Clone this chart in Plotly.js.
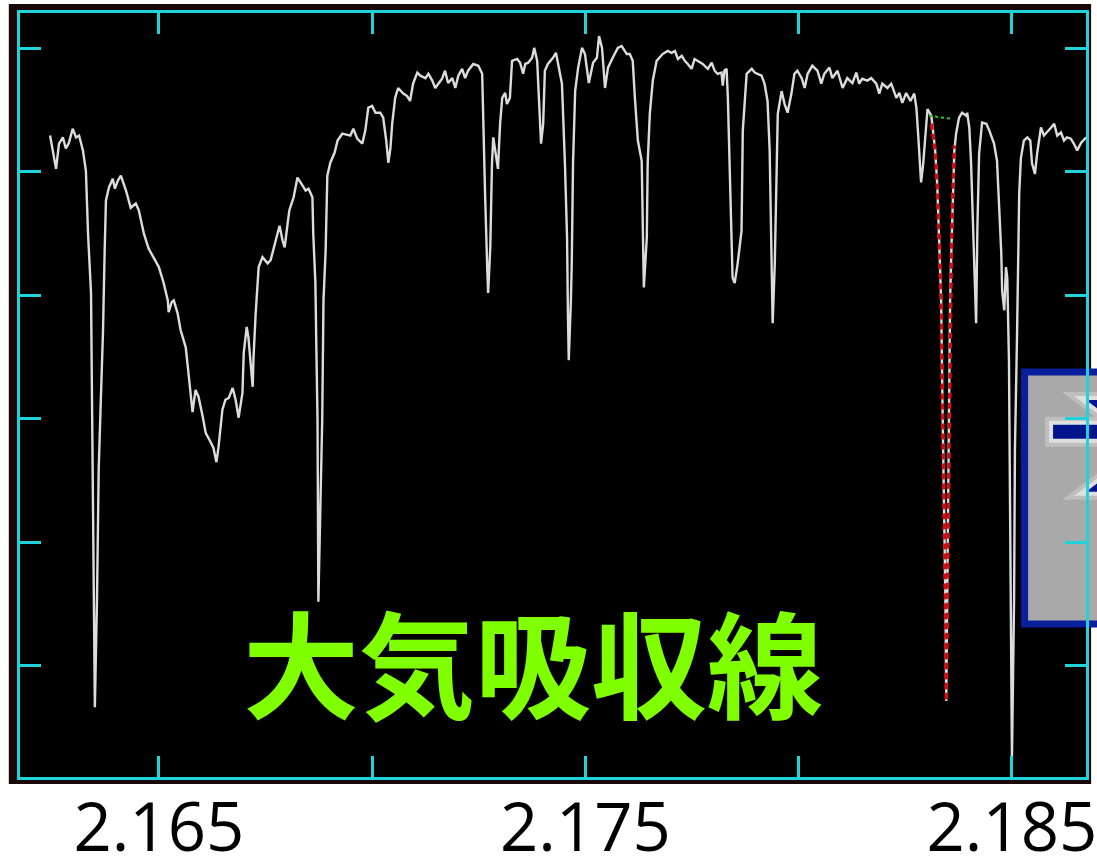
<!DOCTYPE html>
<html>
<head>
<meta charset="utf-8">
<script src="https://cdn.plot.ly/plotly-3.0.1.min.js"></script>
<style>
  html, body { margin: 0; padding: 0; background: #ffffff; overflow: hidden; }
  #chart { width: 1097px; height: 859px; }
</style>
</head>
<body>
<div id="chart"></div>
<script>
// Observed K-band spectrum (wavelength in micron, normalised flux)
const wavelength = [
  2.16245, 2.16252, 2.16259, 2.16266, 2.16275, 2.16282, 2.16289, 2.16298, 2.16306, 2.16313,
  2.16322, 2.16329, 2.16334, 2.16341, 2.16343, 2.16345, 2.16348, 2.16350, 2.16355, 2.16359,
  2.16364, 2.16369, 2.16373, 2.16376, 2.16383, 2.16392, 2.16397, 2.16404, 2.16411, 2.16423,
  2.16434, 2.16446, 2.16453, 2.16465, 2.16476, 2.16488, 2.16500, 2.16511, 2.16521, 2.16523,
  2.16530, 2.16535, 2.16544, 2.16551, 2.16563, 2.16568, 2.16575, 2.16579, 2.16586, 2.16593,
  2.16603, 2.16610, 2.16621, 2.16628, 2.16635, 2.16640, 2.16649, 2.16656, 2.16664, 2.16673,
  2.16680, 2.16687, 2.16696, 2.16699, 2.16706, 2.16710, 2.16720, 2.16722, 2.16727, 2.16734,
  2.16743, 2.16755, 2.16762, 2.16774, 2.16783, 2.16790, 2.16795, 2.16802, 2.16806, 2.16816,
  2.16825, 2.16837, 2.16844, 2.16851, 2.16860, 2.16862, 2.16867, 2.16869, 2.16872, 2.16874,
  2.16879, 2.16883, 2.16886, 2.16891, 2.16895, 2.16902, 2.16912, 2.16919, 2.16930, 2.16949,
  2.16956, 2.16965, 2.16977, 2.16984, 2.16991, 2.17000, 2.17008, 2.17019, 2.17026, 2.17033,
  2.17038, 2.17043, 2.17047, 2.17054, 2.17061, 2.17073, 2.17082, 2.17089, 2.17096, 2.17106,
  2.17113, 2.17125, 2.17132, 2.17141, 2.17148, 2.17155, 2.17164, 2.17171, 2.17178, 2.17188,
  2.17195, 2.17202, 2.17211, 2.17218, 2.17225, 2.17237, 2.17249, 2.17258, 2.17260, 2.17265,
  2.17270, 2.17272, 2.17277, 2.17281, 2.17284, 2.17288, 2.17293, 2.17295, 2.17300, 2.17305,
  2.17312, 2.17316, 2.17323, 2.17328, 2.17340, 2.17347, 2.17354, 2.17359, 2.17366, 2.17375,
  2.17380, 2.17387, 2.17391, 2.17396, 2.17401, 2.17405, 2.17412, 2.17424, 2.17431, 2.17436,
  2.17445, 2.17452, 2.17457, 2.17459, 2.17461, 2.17466, 2.17468, 2.17471, 2.17476, 2.17483,
  2.17492, 2.17499, 2.17508, 2.17518, 2.17527, 2.17532, 2.17539, 2.17546, 2.17553, 2.17564,
  2.17576, 2.17585, 2.17597, 2.17604, 2.17611, 2.17616, 2.17623, 2.17632, 2.17635, 2.17637,
  2.17644, 2.17646, 2.17651, 2.17658, 2.17667, 2.17681, 2.17693, 2.17702, 2.17710, 2.17717,
  2.17726, 2.17733, 2.17740, 2.17749, 2.17756, 2.17763, 2.17775, 2.17787, 2.17796, 2.17803,
  2.17810, 2.17819, 2.17822, 2.17826, 2.17831, 2.17834, 2.17838, 2.17843, 2.17845, 2.17850,
  2.17857, 2.17866, 2.17869, 2.17878, 2.17890, 2.17897, 2.17904, 2.17913, 2.17920, 2.17927,
  2.17932, 2.17936, 2.17939, 2.17944, 2.17948, 2.17951, 2.17960, 2.17967, 2.17974, 2.17983,
  2.17990, 2.17997, 2.18007, 2.18014, 2.18021, 2.18032, 2.18044, 2.18053, 2.18060, 2.18072,
  2.18079, 2.18091, 2.18103, 2.18114, 2.18126, 2.18135, 2.18142, 2.18149, 2.18161, 2.18170,
  2.18182, 2.18189, 2.18196, 2.18208, 2.18217, 2.18229, 2.18236, 2.18243, 2.18252, 2.18262,
  2.18271, 2.18276, 2.18280, 2.18285, 2.18287, 2.18292, 2.18297, 2.18302, 2.18311, 2.18320,
  2.18325, 2.18330, 2.18334, 2.18337, 2.18341, 2.18344, 2.18346, 2.18348, 2.18351, 2.18353,
  2.18355, 2.18358, 2.18360, 2.18365, 2.18369, 2.18376, 2.18383, 2.18393, 2.18395, 2.18400,
  2.18404, 2.18407, 2.18412, 2.18416, 2.18419, 2.18423, 2.18430, 2.18440, 2.18447, 2.18458,
  2.18465, 2.18470, 2.18475, 2.18477, 2.18482, 2.18486, 2.18489, 2.18493, 2.18496, 2.18500,
  2.18505, 2.18507, 2.18512, 2.18517, 2.18521, 2.18528, 2.18536, 2.18543, 2.18547, 2.18554,
  2.18559, 2.18568, 2.18575, 2.18582, 2.18592, 2.18599, 2.18606, 2.18615, 2.18622, 2.18629,
  2.18638, 2.18645, 2.18653, 2.18662, 2.18674
];
const flux = [
  1.039, 1.015, 0.985, 1.026, 1.036, 1.018, 1.027, 1.050, 1.036, 1.039,
  1.015, 0.982, 0.880, 0.784, 0.643, 0.546, 0.288, 0.113, 0.288, 0.498,
  0.611, 0.719, 0.853, 0.934, 0.955, 0.969, 0.953, 0.966, 0.974, 0.950,
  0.922, 0.929, 0.918, 0.880, 0.856, 0.842, 0.826, 0.801, 0.772, 0.753,
  0.769, 0.772, 0.751, 0.724, 0.696, 0.664, 0.611, 0.591, 0.627, 0.616,
  0.583, 0.557, 0.543, 0.533, 0.510, 0.535, 0.595, 0.611, 0.614, 0.630,
  0.611, 0.582, 0.622, 0.687, 0.729, 0.712, 0.632, 0.680, 0.751, 0.826,
  0.842, 0.832, 0.837, 0.869, 0.893, 0.869, 0.858, 0.897, 0.918, 0.939,
  0.971, 0.958, 0.950, 0.953, 0.939, 0.880, 0.800, 0.708, 0.578, 0.284,
  0.449, 0.578, 0.772, 0.853, 0.974, 0.995, 1.011, 1.031, 1.042, 1.039,
  1.050, 1.034, 1.026, 1.047, 1.084, 1.087, 1.076, 1.076, 1.068, 1.031,
  0.995, 1.019, 1.058, 1.100, 1.116, 1.107, 1.103, 1.095, 1.123, 1.141,
  1.136, 1.132, 1.139, 1.128, 1.116, 1.123, 1.131, 1.144, 1.124, 1.132,
  1.116, 1.136, 1.147, 1.132, 1.144, 1.155, 1.152, 1.139, 1.074, 0.939,
  0.821, 0.784, 0.858, 0.994, 1.036, 1.015, 0.998, 0.985, 1.058, 1.100,
  1.108, 1.090, 1.100, 1.160, 1.163, 1.157, 1.139, 1.155, 1.157, 1.165,
  1.181, 1.160, 1.100, 1.026, 1.058, 1.144, 1.155, 1.165, 1.173, 1.155,
  1.123, 0.994, 0.874, 0.751, 0.675, 0.772, 0.832, 0.994, 1.111, 1.149,
  1.181, 1.171, 1.124, 1.157, 1.165, 1.200, 1.181, 1.116, 1.149, 1.165,
  1.181, 1.184, 1.171, 1.171, 1.160, 1.100, 1.031, 0.998, 0.885, 0.793,
  0.874, 0.994, 1.074, 1.128, 1.160, 1.171, 1.176, 1.173, 1.176, 1.163,
  1.168, 1.160, 1.155, 1.147, 1.163, 1.160, 1.155, 1.147, 1.157, 1.144,
  1.139, 1.141, 1.120, 1.144, 1.147, 1.100, 0.994, 0.885, 0.809, 0.800,
  0.832, 0.885, 1.047, 1.139, 1.147, 1.141, 1.139, 1.136, 1.123, 1.095,
  1.015, 0.885, 0.735, 0.832, 0.994, 1.074, 1.111, 1.090, 1.076, 1.107,
  1.139, 1.144, 1.132, 1.116, 1.139, 1.152, 1.144, 1.123, 1.139, 1.149,
  1.132, 1.144, 1.116, 1.132, 1.124, 1.141, 1.123, 1.131, 1.128, 1.132,
  1.123, 1.107, 1.123, 1.116, 1.123, 1.100, 1.108, 1.092, 1.108, 1.095,
  1.107, 1.084, 1.042, 0.987, 0.963, 0.994, 1.042, 1.082, 1.071, 1.015,
  0.958, 0.869, 0.772, 0.611, 0.449, 0.288, 0.123, 0.255, 0.449, 0.611,
  0.772, 0.853, 0.910, 1.015, 1.042, 1.068, 1.076, 1.071, 1.076, 1.052,
  0.998, 0.934, 0.805, 0.735, 0.890, 1.010, 1.060, 1.058, 1.047, 1.026,
  0.998, 0.934, 0.848, 0.788, 0.756, 0.826, 0.809, 0.675, 0.449, 0.029,
  0.288, 0.530, 0.719, 0.945, 1.003, 1.031, 1.036, 1.031, 0.994, 0.977,
  1.010, 1.052, 1.039, 1.044, 1.052, 1.058, 1.039, 1.044, 1.031, 1.036,
  1.034, 1.026, 1.015, 1.027, 1.036
];

// Line-profile fit of the stellar line near 2.1834 micron
const fitWavelength = [2.18311, 2.18320, 2.18325, 2.18330, 2.18334, 2.18337, 2.18341, 2.18344,
                       2.18346, 2.18348, 2.18351, 2.18353, 2.18355, 2.18358, 2.18360, 2.18365];
const fitFlux = [1.058, 1.015, 0.958, 0.869, 0.772, 0.611, 0.449, 0.288,
                 0.123, 0.255, 0.449, 0.611, 0.772, 0.853, 0.910, 1.023];

// Local continuum level used for the fit
const contWavelength = [2.18306, 2.18360];
const contFlux = [1.071, 1.066];

// Axis ticks
const xTickVals = [2.165, 2.170, 2.175, 2.180, 2.185];
const xTickText = ['2.165', '', '2.175', '', '2.185'];
const yTickVals = [0.18, 0.38, 0.58, 0.78, 0.98, 1.18];

const CYAN = '#1ed3d9';
const BLUE = '#0a1f9c';

const traces = [
  {
    x: wavelength, y: flux, type: 'scatter', mode: 'lines',
    line: { color: '#dcdcdc', width: 2.4 }, hoverinfo: 'skip'
  },
  {
    x: fitWavelength, y: fitFlux, type: 'scatter', mode: 'lines',
    line: { color: '#d01010', width: 3.5, dash: '6px,4px' }, hoverinfo: 'skip'
  },
  {
    x: contWavelength, y: contFlux, type: 'scatter', mode: 'lines',
    line: { color: '#22cc22', width: 2, dash: 'dot' }, hoverinfo: 'skip'
  }
];

const axisCommon = {
  showline: true, linecolor: CYAN, linewidth: 3, mirror: 'ticks',
  ticks: 'inside', ticklen: 21, tickwidth: 3, tickcolor: CYAN,
  showgrid: false, zeroline: false, fixedrange: true
};

// Pointer arrow inside the grey box (paper coordinates)
const arrowPath = 'M 0.9691,0.4426 L 1.02,0.4426 L 1.02,0.4609 L 0.9691,0.4609 Z ' +
                  'M 1.0000,0.4935 L 1.02,0.4935 L 1.02,0.4726 Z ' +
                  'M 1.0000,0.3734 L 1.02,0.3734 L 1.02,0.3943 Z';

const layout = {
  width: 1097, height: 859,
  margin: { l: 20, r: 11, t: 13, b: 82, pad: 0 },
  paper_bgcolor: '#ffffff',
  plot_bgcolor: 'rgba(0,0,0,0)',
  showlegend: false,
  xaxis: Object.assign({}, axisCommon, {
    range: [2.161745, 2.186736],
    tickmode: 'array', tickvals: xTickVals, ticktext: xTickText,
    ticklabeloverflow: 'allow', ticklabelstandoff: -9,
    tickfont: { family: 'Open Sans, sans-serif', size: 67, color: '#000000' }
  }),
  yaxis: Object.assign({}, axisCommon, {
    range: [0, 1.2375],
    tickmode: 'array', tickvals: yTickVals, showticklabels: false
  }),
  shapes: [
    // dark monitor frame around the plot
    { type: 'rect', xref: 'paper', yref: 'paper', layer: 'below',
      x0: -0.0105, x1: 1.0048, y0: -0.0092, y1: 1.0118,
      fillcolor: '#1a0707', line: { width: 0 } },
    // black plotting area
    { type: 'rect', xref: 'paper', yref: 'paper', layer: 'below',
      x0: 0, x1: 1, y0: 0, y1: 1,
      fillcolor: '#000000', line: { width: 0 } },
    // grey label box on the right
    { type: 'rect', xref: 'paper', yref: 'paper', layer: 'below',
      x0: 0.9424, x1: 1.08, y0: 0.2001, y1: 0.5300,
      fillcolor: '#a9a9a9', line: { color: BLUE, width: 7 } },
    // soft white halo (two passes) and the arrow itself
    { type: 'path', xref: 'paper', yref: 'paper', layer: 'below', path: arrowPath,
      fillcolor: 'rgba(255,255,255,0.25)', line: { color: 'rgba(255,255,255,0.25)', width: 16 } },
    { type: 'path', xref: 'paper', yref: 'paper', layer: 'below', path: arrowPath,
      fillcolor: 'rgba(255,255,255,0.5)', line: { color: 'rgba(255,255,255,0.5)', width: 8 } },
    { type: 'path', xref: 'paper', yref: 'paper', layer: 'below', path: arrowPath,
      fillcolor: '#00148c', line: { width: 0 } }
  ],
  annotations: [
    { xref: 'paper', yref: 'paper', x: 0.4813, y: 0.154,
      xanchor: 'center', yanchor: 'middle', showarrow: false,
      text: '<b>大気吸収線</b>',
      font: { family: 'Noto Sans CJK JP, sans-serif', size: 116, color: '#80ff00' } }
  ]
};

Plotly.newPlot('chart', traces, layout, { displayModeBar: false, staticPlot: true });
</script>
</body>
</html>
